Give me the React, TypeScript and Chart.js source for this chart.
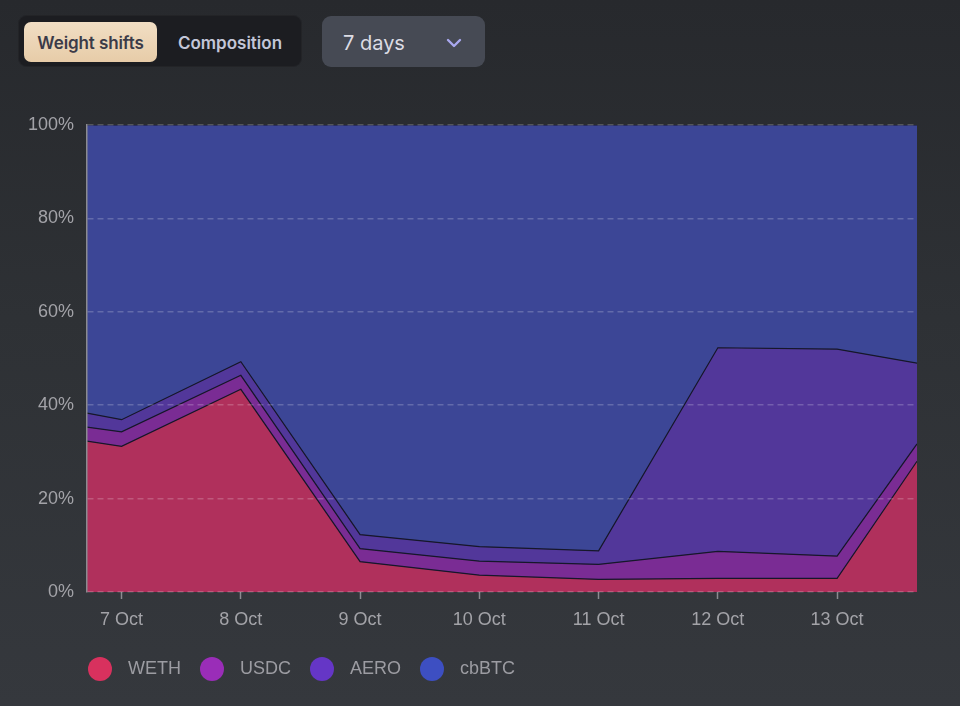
import React, { useEffect, useRef } from "react";
import { Chart, registerables } from "chart.js";

Chart.register(...registerables);

// ---- data ----
const days = [6.71, 7, 8, 9, 10, 11, 12, 13, 13.67];
const tickDays = [7, 8, 9, 10, 11, 12, 13];
const monthLabel = "Oct";
const seriesNames = ["WETH", "USDC", "AERO", "cbBTC"];
const wethWeights = [32.3, 31.2, 43.4, 6.5, 3.6, 2.7, 2.9, 2.9, 28.0];
const usdcWeights = [3.0, 3.1, 3.0, 2.8, 3.0, 3.2, 5.8, 4.8, 3.7];
const aeroWeights = [3.0, 2.6, 2.9, 3.0, 3.1, 2.9, 43.6, 44.3, 17.3];
const cbbtcWeights = [61.7, 63.1, 50.7, 87.7, 90.3, 91.2, 47.7, 48.0, 51.0];
const yTickValues = [0, 20, 40, 60, 80, 100];

const fillColors = ["#b0305c", "#7a2c94", "#52379a", "#3c4696"];
const dotColors = ["#d8315e", "#9a2db8", "#6536c6", "#3d4fc2"];

function makeDot(color: string, d = 24) {
  const c = document.createElement("canvas");
  c.width = d;
  c.height = d;
  const ctx = c.getContext("2d")!;
  ctx.fillStyle = color;
  ctx.beginPath();
  ctx.arc(d / 2, d / 2, d / 2, 0, Math.PI * 2);
  ctx.fill();
  return c;
}

const shiftLegend = {
  id: "shiftLegend",
  afterLayout(chart: any) {
    const lg = chart.legend;
    if (lg) {
      lg.left += 45;
      lg.right += 45;
    }
  },
};

export default function App() {
  const ref = useRef<HTMLCanvasElement | null>(null);

  useEffect(() => {
    if (!ref.current) return;
    const series = [wethWeights, usdcWeights, aeroWeights, cbbtcWeights];
    const dots = dotColors.map((c) => makeDot(c));
    const font = { family: "'Liberation Sans', Arial, sans-serif", size: 18 };
    const chart = new Chart(ref.current, {
      type: "line",
      data: {
        datasets: series.map((vals, i) => ({
          label: seriesNames[i],
          data: vals.map((v, j) => ({ x: days[j], y: v })),
          backgroundColor: fillColors[i],
          borderColor: "#16172a",
          borderWidth: 1.2,
          fill: i === 0 ? "origin" : "-1",
          pointRadius: 0,
          tension: 0,
        })),
      },
      plugins: [shiftLegend],
      options: {
        animation: false,
        responsive: true,
        maintainAspectRatio: false,
        layout: { padding: { top: 30, left: 24, right: 43, bottom: 18 } },
        plugins: {
          tooltip: { enabled: false },
          legend: {
            position: "bottom",
            align: "start",
            labels: {
              usePointStyle: true,
              pointStyleWidth: 38,
              boxHeight: 18,
              padding: 12,
              color: "#9c9ca2",
              font,
              generateLabels: (ch: any) =>
                ch.data.datasets.map((ds: any, i: number) => ({
                  text: ds.label,
                  fillStyle: dotColors[i],
                  strokeStyle: dotColors[i],
                  lineWidth: 0,
                  pointStyle: dots[i],
                  hidden: false,
                  datasetIndex: i,
                  fontColor: "#9c9ca2",
                })),
            },
          },
        },
        scales: {
          x: {
            type: "linear",
            min: days[0],
            max: days[days.length - 1],
            afterBuildTicks: (s: any) => {
              s.ticks = tickDays.map((v) => ({ value: v }));
            },
            afterFit: (s: any) => {
              s.height = 56;
            },
            border: { display: false },
            grid: {
              drawOnChartArea: false,
              drawTicks: true,
              tickLength: 7,
              tickColor: "#8b8b90",
              tickWidth: 1.5,
            },
            ticks: {
              padding: 10,
              color: "#a3a3a8",
              font,
              callback: (v: any) => `${v} ${monthLabel}`,
            },
          },
          y: {
            stacked: true,
            min: 0,
            max: 100,
            afterBuildTicks: (s: any) => {
              s.ticks = yTickValues.map((v) => ({ value: v }));
            },
            afterFit: (s: any) => {
              s.width = 63;
            },
            border: { display: true, color: "#8b8b90", width: 1.5, dash: [6, 4], z: 2 },
            grid: {
              z: 1,
              color: "rgba(255,255,255,0.2)",
              lineWidth: 1.5,
              drawTicks: false,
            },
            ticks: {
              padding: 13,
              color: "#a3a3a8",
              font,
              callback: (v: any) => `${v}%`,
            },
          },
        },
      } as any,
    });
    return () => chart.destroy();
  }, []);

  const geo = "Inter, 'Open Sans', sans-serif";

  return (
    <div
      style={{
        position: "fixed",
        inset: 0,
        width: 960,
        height: 706,
        background: "linear-gradient(180deg, #27292d 0%, #2e3135 45%, #35383d 100%)",
        overflow: "hidden",
      }}
    >
      <div
        style={{
          position: "absolute",
          left: 18,
          top: 15,
          width: 284,
          height: 52,
          borderRadius: 9,
          background: "#1c1d21",
          boxShadow: "inset 0 0 0 1px rgba(255,255,255,0.03)",
        }}
      >
        <div
          style={{
            position: "absolute",
            left: 6,
            top: 7,
            width: 133,
            height: 40,
            borderRadius: 7,
            background: "linear-gradient(180deg, #f1dec4 0%, #e7cca8 100%)",
            color: "#3b3b48",
            fontFamily: geo,
            fontWeight: 600,
            fontSize: 17,
            lineHeight: "42px",
            textAlign: "center",
            letterSpacing: -0.1,
          }}
        >
          Weight shifts
        </div>
        <div
          style={{
            position: "absolute",
            left: 146,
            top: 7,
            width: 132,
            height: 40,
            color: "#c3c6d8",
            fontFamily: geo,
            fontWeight: 600,
            fontSize: 17,
            lineHeight: "42px",
            textAlign: "center",
            letterSpacing: 0,
          }}
        >
          Composition
        </div>
      </div>
      <div
        style={{
          position: "absolute",
          left: 322,
          top: 16,
          width: 163,
          height: 51,
          borderRadius: 9,
          background: "#464a54",
        }}
      >
        <div
          style={{
            position: "absolute",
            left: 21,
            top: 2,
            lineHeight: "51px",
            color: "#dcdce4",
            fontFamily: geo,
            fontSize: 20,
            fontWeight: 400,
          }}
        >
          7 days
        </div>
        <svg
          style={{ position: "absolute", left: 124, top: 21 }}
          width="16"
          height="12"
          viewBox="0 0 16 12"
        >
          <path d="M2 3 L8 9 L14 3" stroke="#a9a8ef" strokeWidth="2.4" fill="none" strokeLinecap="round" strokeLinejoin="round" />
        </svg>
      </div>
      <div style={{ position: "absolute", left: 0, top: 95, width: 960, height: 611 }}>
        <canvas ref={ref} />
      </div>
    </div>
  );
}
